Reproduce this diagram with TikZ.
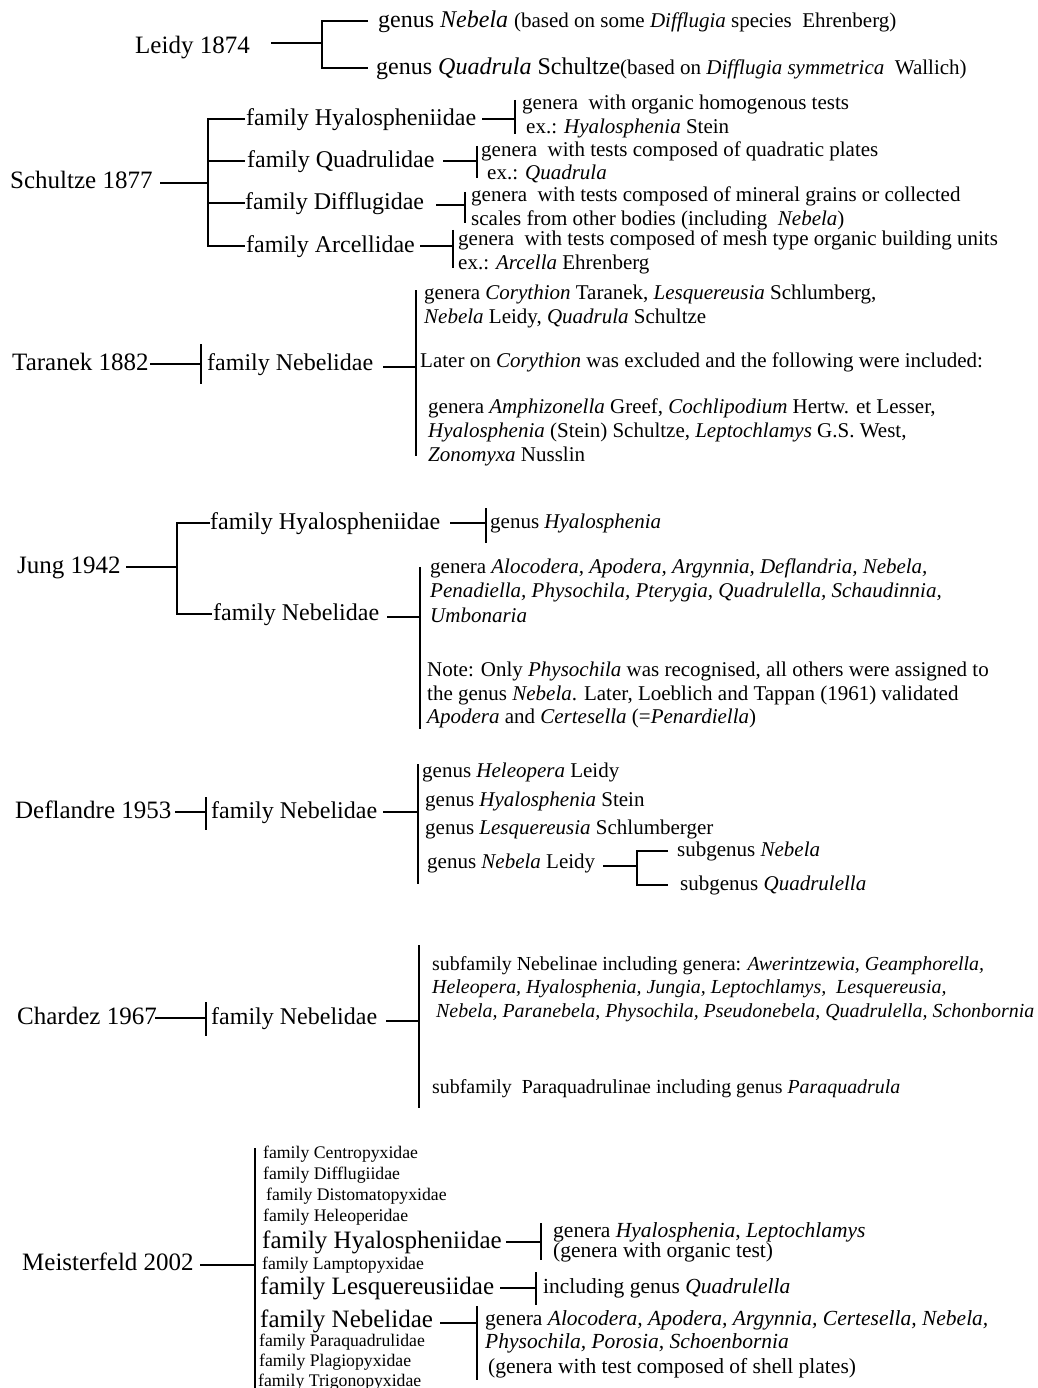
\documentclass[tikz,border=0pt]{standalone}
\usepackage{fontspec}
\setmainfont{Liberation Serif}

\begin{document}
\begin{tikzpicture}[
    x=1pt, y=-1pt,
    every node/.style={anchor=base west, inner sep=0pt},
    yearlbl/.style={font=\fontsize{25}{30}\selectfont, yshift=-6.5pt},
    famlbl/.style={font=\fontsize{24}{28}\selectfont, yshift=-6.5pt},
    bigfam/.style={font=\fontsize{25}{28}\selectfont, yshift=-6.5pt},
    desc/.style={font=\fontsize{21}{24}\selectfont, yshift=-5.5pt},
    descm/.style={font=\fontsize{21.5}{24}\selectfont, yshift=-5.5pt},
    descs/.style={font=\fontsize{19.9}{24}\selectfont, yshift=-5.5pt},
    minor/.style={font=\fontsize{17.7}{20}\selectfont, yshift=-4.5pt},
    wire/.style={line width=1.8pt},
    bar/.style={line width=1.4pt},
]
\fill[white] (0,0) rectangle (1037,1388);
\useasboundingbox (0,0) rectangle (1037,1388);

% Leidy 1874
\node[yearlbl] (leidy) at (135,47) {Leidy 1874};
\coordinate (lfk) at (322,43);
\node[famlbl] (l-neb) at (378,21) {genus \textit{Nebela} {\fontsize{21}{24}\selectfont (based on some \textit{Difflugia} species\ \ Ehrenberg)}};
\node[famlbl] (l-qua) at (376,68) {genus \textit{Quadrula} Schultze{\fontsize{21}{24}\selectfont(based on \textit{Difflugia symmetrica}\ \ Wallich)}};
\draw[wire] (lfk) -- ++(-51,0);
\draw[wire] (368,21) -| (lfk) |- (368,68);

% Schultze 1877
\node[yearlbl] (schultze) at (10,182) {Schultze 1877};
\coordinate (sfk) at (208,183);
\node[famlbl] (s-hy) at (246,119) {family Hyalospheniidae};
\node[famlbl] (s-qu) at (247,161) {family Quadrulidae};
\node[famlbl] (s-di) at (245,203) {family Difflugidae};
\node[famlbl] (s-ar) at (246,246) {family Arcellidae};
\draw[wire] (sfk) -- ++(-48,0);
\draw[wire] (245,119) -| (sfk) |- (245,246);
\draw[wire] (sfk |- 0,161) -- (245,161);
\draw[wire] (sfk |- 0,203) -- (245,203);

\node[desc] (s-hy1) at (522,104) {genera\ \ with organic homogenous tests};
\node[desc] (s-hy2) at (526,128) {ex.: \textit{Hyalosphenia} Stein};
\node[desc] (s-qu1) at (481,151) {genera\ \ with tests composed of quadratic plates};
\node[desc] (s-qu2) at (487,174) {ex.: \textit{Quadrula}};
\node[desc] (s-di1) at (471,196) {genera\ \ with tests composed of mineral grains or collected};
\node[desc] (s-di2) at (471,220) {scales from other bodies (including\ \ \textit{Nebela})};
\node[desc] (s-ar1) at (458,240) {genera\ \ with tests composed of mesh type organic building units};
\node[desc] (s-ar2) at (458,264) {ex.: \textit{Arcella} Ehrenberg};
\draw[wire] (482,119) -- (515,119);
\draw[bar] (515,100) -- (515,134);
\draw[wire] (443,161) -- (477,161);
\draw[bar] (477,146) -- (477,178);
\draw[wire] (436,205) -- (465,205);
\draw[bar] (465,192) -- (465,223);
\draw[wire] (420,246) -- (453,246);
\draw[bar] (453,230) -- (453,268);

% Taranek 1882
\node[yearlbl] (taranek) at (12,364) {Taranek 1882};
\node[famlbl] (t-ne) at (207,364) {family Nebelidae};
\draw[wire] (150,364) -- (201,364);
\draw[bar] (201,344) -- (201,384);
\draw[wire] (383,367) -- (416,367);
\draw[bar] (416,290) -- (416,456);
\node[desc] (t-d1) at (424,294) {genera \textit{Corythion} Taranek, \textit{Lesquereusia} Schlumberg,};
\node[desc] (t-d2) at (424,318) {\textit{Nebela} Leidy, \textit{Quadrula} Schultze};
\node[desc] (t-d3) at (420,362) {Later on \textit{Corythion} was excluded and the following were included:};
\node[desc] (t-d4) at (428,408) {genera \textit{Amphizonella} Greef, \textit{Cochlipodium} Hertw. et Lesser,};
\node[desc] (t-d5) at (428,432) {\textit{Hyalosphenia} (Stein) Schultze, \textit{Leptochlamys} G.S. West,};
\node[desc] (t-d6) at (428,456) {\textit{Zonomyxa} Nusslin};

% Jung 1942
\node[yearlbl] (jung) at (17,567) {Jung 1942};
\coordinate (jfk) at (177,567);
\node[famlbl] (j-hy) at (210,523) {family Hyalospheniidae};
\node[famlbl] (j-ne) at (213,614) {family Nebelidae};
\draw[wire] (jfk) -- ++(-51,0);
\draw[wire] (210,523) -| (jfk) |- (212,614);
\draw[wire] (450,523) -- (486,523);
\draw[bar] (486,508) -- (486,543);
\node[desc] (j-hy1) at (490,523) {genus \textit{Hyalosphenia}};
\draw[wire] (387,617) -- (420,617);
\draw[bar] (420,567) -- (420,729);
\foreach \yy/\xx/\txt [count=\i] in {
    568/430/{genera \textit{Alocodera, Apodera, Argynnia, Deflandria, Nebela,}},
    592/430/{\textit{Penadiella, Physochila, Pterygia, Quadrulella, Schaudinnia,}},
    617/430/{\textit{Umbonaria}},
    671/427/{Note: Only \textit{Physochila} was recognised, all others were assigned to},
    695/427/{the genus \textit{Nebela}. Later, Loeblich and Tappan (1961) validated},
    718/427/{\textit{Apodera} and \textit{Certesella} (=\textit{Penardiella})}}
    \node[desc] (j-ne\i) at (\xx,\yy) {\txt};

% Deflandre 1953
\node[yearlbl] (defl) at (15,812) {Deflandre 1953};
\node[famlbl] (d-ne) at (211,812) {family Nebelidae};
\draw[wire] (175,812) -- (206,812);
\draw[bar] (206,797) -- (206,830);
\draw[wire] (383,812) -- (418,812);
\draw[bar] (418,764) -- (418,884);
\node[desc] (d-g1) at (422,772) {genus \textit{Heleopera} Leidy};
\node[desc] (d-g2) at (425,801) {genus \textit{Hyalosphenia} Stein};
\node[desc] (d-g3) at (425,829) {genus \textit{Lesquereusia} Schlumberger};
\node[desc] (d-g4) at (427,863) {genus \textit{Nebela} Leidy};
\coordinate (dfk) at (637,866);
\node[desc] (d-s1) at (677,851) {subgenus \textit{Nebela}};
\node[desc] (d-s2) at (680,885) {subgenus \textit{Quadrulella}};
\draw[wire] (dfk) -- ++(-34,0);
\draw[wire] (668,851) -| (dfk) |- (668,885);

% Chardez 1967
\node[yearlbl] (chardez) at (17,1018) {Chardez 1967};
\node[famlbl] (c-ne) at (211,1018) {family Nebelidae};
\draw[wire] (155,1018) -- (206,1018);
\draw[bar] (206,1002) -- (206,1036);
\draw[wire] (386,1021) -- (419,1021);
\draw[bar] (419,945) -- (419,1108);
\node[descs] (c-d1) at (432,965) {subfamily Nebelinae including genera: \textit{Awerintzewia, Geamphorella,}};
\node[descs] (c-d2) at (432,988) {\textit{Heleopera, Hyalosphenia, Jungia, Leptochlamys,\ \ Lesquereusia,}};
\node[descs] (c-d3) at (436,1012) {\textit{Nebela, Paranebela, Physochila, Pseudonebela, Quadrulella, Schonbornia}};
\node[descs] (c-d4) at (432,1088) {subfamily\ \ Paraquadrulinae including genus \textit{Paraquadrula}};

% Meisterfeld 2002
\node[yearlbl] (meist) at (22,1264) {Meisterfeld 2002};
\draw[wire] (200,1265) -- (255,1265);
\draw[bar] (255,1148) -- (255,1388);
\foreach \yy/\xx/\txt [count=\i] in {
    1154/263/Centropyxidae, 1175/263/Difflugiidae, 1196/266/Distomatopyxidae,
    1217/263/Heleoperidae, 1265/262/Lamptopyxidae, 1342/259/Paraquadrulidae,
    1362/259/Plagiopyxidae, 1382/258/Trigonopyxidae}
    \node[minor] (m-f\i) at (\xx,\yy) {family \txt};
\node[bigfam] (m-hy) at (262,1242) {family Hyalospheniidae};
\node[bigfam] (m-le) at (260,1288) {family Lesquereusiidae};
\node[bigfam] (m-ne) at (260,1321) {family Nebelidae};
\draw[wire] (506,1242) -- (541,1242);
\draw[bar] (541,1223) -- (541,1260);
\node[descm] (m-hy1) at (553,1232) {genera \textit{Hyalosphenia}, \textit{Leptochlamys}};
\node[descm] (m-hy2) at (553,1252) {(genera with organic test)};
\draw[wire] (500,1288) -- (536,1288);
\draw[bar] (536,1272) -- (536,1305);
\node[descm] (m-le1) at (543,1288) {including genus \textit{Quadrulella}};
\draw[wire] (440,1323) -- (477,1323);
\draw[bar] (477,1306) -- (477,1380);
\node[descm] (m-ne1) at (485,1320) {genera \textit{Alocodera, Apodera, Argynnia, Certesella, Nebela,}};
\node[descm] (m-ne2) at (485,1343) {\textit{Physochila, Porosia, Schoenbornia}};
\node[descm] (m-ne3) at (488,1368) {(genera with test composed of shell plates)};
\end{tikzpicture}
\end{document}
